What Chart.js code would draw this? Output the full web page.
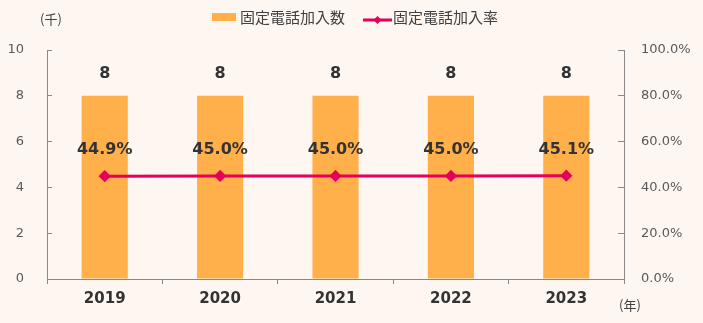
<!DOCTYPE html>
<html>
<head>
<meta charset="utf-8">
<script src="https://cdn.jsdelivr.net/npm/chart.js@4"></script>
<style>
  html, body { margin: 0; padding: 0; background: #fdf6f1; }
  #wrap { width: 703px; height: 323px; position: relative; }
</style>
</head>
<body>
<div id="wrap"><canvas id="lineChart" width="703" height="323"></canvas></div>
<script>
// 固定電話の加入数（千）と加入率（%）
const years = ['2019', '2020', '2021', '2022', '2023'];
const subscribers = [8, 8, 8, 8, 8];
const subscriberRate = [44.9, 45.0, 45.0, 45.0, 45.1];
const barLabel = '固定電話加入数';
const lineLabel = '固定電話加入率';

const barColor = '#ffb04a';
const lineColor = '#e5005a';
const NUM_FONT = "'DejaVu Sans', 'Noto Sans CJK JP', sans-serif";
const JP_FONT = "'Noto Sans CJK JP', 'Noto Sans', sans-serif";

// 棒と折れ線の上に値を書く
const valueLabels = {
    id: 'valueLabels',
    afterDatasetsDraw(chart) {
        const ctx = chart.ctx;
        ctx.save();
        ctx.fillStyle = '#333333';
        ctx.font = 'bold 16px ' + NUM_FONT;
        ctx.textAlign = 'center';
        ctx.textBaseline = 'middle';
        chart.getDatasetMeta(1).data.forEach((bar, i) => {
            ctx.fillText(String(subscribers[i]), bar.x, bar.y - 22);
        });
        chart.getDatasetMeta(0).data.forEach((pt, i) => {
            ctx.fillText(subscriberRate[i].toFixed(1) + '%', pt.x, pt.y - 26);
        });
        ctx.restore();
    }
};

// 凡例と単位
const legendAndUnits = {
    id: 'legendAndUnits',
    afterDraw(chart) {
        const ctx = chart.ctx;
        ctx.save();
        ctx.font = '15px ' + JP_FONT;
        ctx.textBaseline = 'middle';
        ctx.textAlign = 'left';

        // bar entry
        ctx.fillStyle = barColor;
        ctx.fillRect(212, 13, 24, 8);
        ctx.fillStyle = '#404040';
        ctx.fillText(barLabel, 240, 17);

        // line entry
        ctx.strokeStyle = lineColor;
        ctx.lineWidth = 3;
        ctx.beginPath();
        ctx.moveTo(363, 20);
        ctx.lineTo(392, 20);
        ctx.stroke();
        ctx.fillStyle = lineColor;
        ctx.beginPath();
        ctx.moveTo(377.5, 16);
        ctx.lineTo(381.5, 20);
        ctx.lineTo(377.5, 24);
        ctx.lineTo(373.5, 20);
        ctx.closePath();
        ctx.fill();
        ctx.fillStyle = '#404040';
        ctx.fillText(lineLabel, 393, 17);

        ctx.font = '13px ' + JP_FONT;
        ctx.fillText('(千)', 40, 19);
        ctx.fillText('(年)', 619, 305);
        ctx.restore();
    }
};

const data = {
    labels: years,
    datasets: [{
        type: 'line',
        label: lineLabel,
        data: subscriberRate,
        yAxisID: 'y1',
        borderColor: lineColor,
        backgroundColor: lineColor,
        borderWidth: 3,
        pointStyle: 'rectRot',
        pointRadius: 4,
        pointHoverRadius: 4,
        order: 1
    }, {
        type: 'bar',
        label: barLabel,
        data: subscribers,
        yAxisID: 'y',
        backgroundColor: barColor,
        categoryPercentage: 0.4,
        barPercentage: 1.0,
        order: 2
    }]
};

const config = {
    data: data,
    options: {
        responsive: false,
        animation: false,
        layout: { padding: { top: 50, left: 0, right: 0, bottom: 0 } },
        plugins: {
            legend: { display: false },
            tooltip: { enabled: false }
        },
        scales: {
            x: {
                offset: true,
                grid: { display: true, offset: true, drawOnChartArea: false, tickLength: 5, color: '#888888' },
                border: { color: '#888888', width: 1 },
                ticks: { color: '#333333', font: { family: NUM_FONT, size: 15, weight: 'bold' }, padding: 6 },
                afterFit(scale) { scale.height = 44; }
            },
            y: {
                position: 'left',
                min: 0,
                max: 10,
                ticks: { stepSize: 2, color: '#595959', font: { family: NUM_FONT, size: 13 }, padding: 28 },
                grid: { display: true, drawOnChartArea: false, tickLength: -5, color: '#888888' },
                border: { color: '#888888', width: 1 },
                afterFit(scale) { scale.width = 47; }
            },
            y1: {
                position: 'right',
                min: 0,
                max: 100,
                ticks: {
                    stepSize: 20,
                    color: '#595959',
                    font: { family: NUM_FONT, size: 13 },
                    padding: 23,
                    callback: v => v.toFixed(1) + '%'
                },
                grid: { display: true, drawOnChartArea: false, tickLength: -6, color: '#888888' },
                border: { color: '#888888', width: 1 },
                afterFit(scale) { scale.width = 79; }
            }
        }
    },
    plugins: [valueLabels, legendAndUnits]
};

let ctx = document.getElementById('lineChart').getContext('2d');
new Chart(ctx, config);
</script>
</body>
</html>
